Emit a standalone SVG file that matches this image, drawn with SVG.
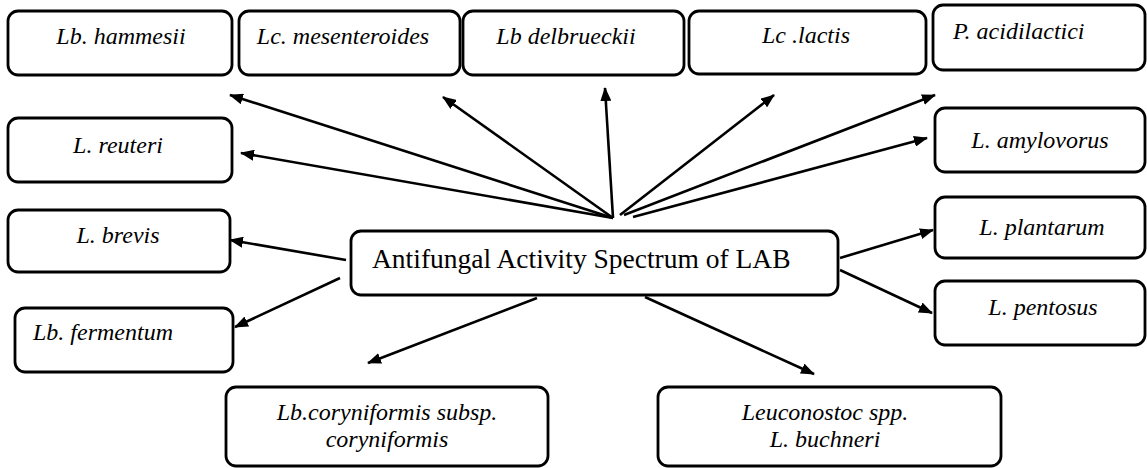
<svg xmlns="http://www.w3.org/2000/svg" width="1147" height="468" viewBox="0 0 1147 468">
<style>
.box{fill:#fff;stroke:#000;stroke-width:2.8}
.lbl{font-family:"Liberation Serif","Times New Roman",serif;font-style:italic;font-size:24px;fill:#000}
.c{text-anchor:middle}
.main{font-family:"Liberation Serif","Times New Roman",serif;font-size:27.5px;fill:#000}
.arr{stroke:#000;stroke-width:2.6;fill:none;marker-end:url(#ah)}
</style>
<defs>
<marker id="ah" markerUnits="userSpaceOnUse" markerWidth="14" markerHeight="11" refX="13" refY="5.5" orient="auto">
<path d="M0,0 L14,5.5 L0,11 z" fill="#000"/>
</marker>
</defs>
<rect width="1147" height="468" fill="#fff"/>
<g id="connectors">
<line class="arr" x1="613" y1="218" x2="230" y2="95"/>
<line class="arr" x1="613" y1="218" x2="443" y2="97"/>
<line class="arr" x1="613" y1="218" x2="241" y2="153"/>
<line class="arr" x1="613" y1="218" x2="605" y2="88"/>
<line class="arr" x1="620" y1="215" x2="774" y2="95"/>
<line class="arr" x1="624" y1="215" x2="935" y2="95"/>
<line class="arr" x1="633" y1="217" x2="927" y2="138"/>
<line class="arr" x1="346" y1="260" x2="230" y2="240"/>
<line class="arr" x1="340" y1="278" x2="235" y2="327"/>
<line class="arr" x1="537" y1="298" x2="368" y2="363"/>
<line class="arr" x1="645" y1="297" x2="814" y2="374"/>
<line class="arr" x1="840" y1="258" x2="933" y2="230"/>
<line class="arr" x1="840" y1="270" x2="932" y2="313"/>
</g>
<g id="n-hammesii"><rect class="box" x="8" y="11" width="224" height="64" rx="10"/><text class="lbl c" x="121" y="44">Lb. hammesii</text></g>
<g id="n-mesenteroides"><rect class="box" x="239" y="11" width="221" height="64" rx="10"/><text class="lbl c" x="343" y="44">Lc. mesenteroides</text></g>
<g id="n-delbrueckii"><rect class="box" x="463" y="11" width="221" height="64" rx="10"/><text class="lbl c" x="566" y="44">Lb delbrueckii</text></g>
<g id="n-lactis"><rect class="box" x="689" y="11" width="237" height="63" rx="10"/><text class="lbl c" x="806" y="43">Lc .lactis</text></g>
<g id="n-acidilactici"><rect class="box" x="933" y="5" width="212" height="65" rx="10"/><text class="lbl" x="953" y="39">P. acidilactici</text></g>
<g id="n-reuteri"><rect class="box" x="8" y="118" width="224" height="64" rx="10"/><text class="lbl c" x="118" y="153">L. reuteri</text></g>
<g id="n-amylovorus"><rect class="box" x="935" y="108" width="210" height="64" rx="10"/><text class="lbl c" x="1040" y="148">L. amylovorus</text></g>
<g id="n-brevis"><rect class="box" x="8" y="210" width="222" height="62" rx="10"/><text class="lbl c" x="118" y="243">L. brevis</text></g>
<g id="n-center"><rect class="box" x="351" y="231" width="487" height="64" rx="10"/><text class="main" x="372" y="268">Antifungal Activity Spectrum of LAB</text></g>
<g id="n-plantarum"><rect class="box" x="935" y="197" width="210" height="61" rx="10"/><text class="lbl c" x="1042" y="235">L. plantarum</text></g>
<g id="n-pentosus"><rect class="box" x="935" y="281" width="210" height="64" rx="10"/><text class="lbl c" x="1043" y="315">L. pentosus</text></g>
<g id="n-fermentum"><rect class="box" x="15" y="308" width="218" height="64" rx="10"/><text class="lbl" x="33" y="340">Lb. fermentum</text></g>
<g id="n-coryniformis"><rect class="box" x="226" y="387" width="322" height="79" rx="10"/><text class="lbl c" x="387" y="420">Lb.coryniformis subsp.</text><text class="lbl c" x="387" y="447">coryniformis</text></g>
<g id="n-leuconostoc"><rect class="box" x="658" y="387" width="343" height="79" rx="10"/><text class="lbl c" x="825" y="420">Leuconostoc spp.</text><text class="lbl c" x="825" y="447">L. buchneri</text></g>
</svg>
